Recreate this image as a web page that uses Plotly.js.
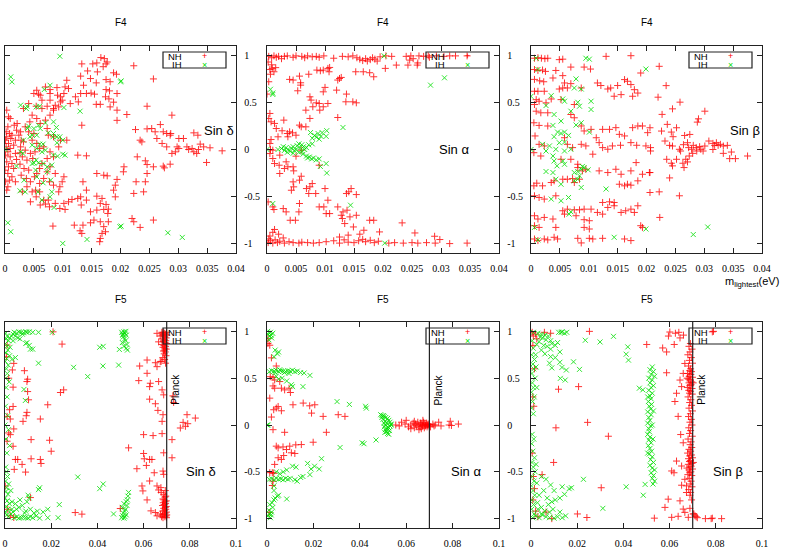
<!DOCTYPE html>
<html>
<head>
<meta charset="utf-8">
<script src="https://cdn.plot.ly/plotly-3.0.1.min.js"></script>
<style>html,body{margin:0;padding:0;background:#fff;}#chart{width:789px;height:552px;}</style>
</head>
<body>
<div id="chart"></div>
<script>
// ---------- labels / ticks ----------
const PLANCK = 0.07;
const xTickValsF4 = [0, 0.005, 0.01, 0.015, 0.02, 0.025, 0.03, 0.035, 0.04];
const xTickTextF4 = ["0", "0.005", "0.01", "0.015", "0.02", "0.025", "0.03", "0.035", "0.04"];
const xTickValsF5 = [0, 0.02, 0.04, 0.06, 0.08, 0.1];
const xTickTextF5 = ["0", "0.02", "0.04", "0.06", "0.08", "0.1"];
const yTickVals = [-1, -0.5, 0, 0.5, 1];
const yTickText = ["-1", "-0.5", "0", "0.5", "1"];
const panelTitles = ["F4", "F4", "F4", "F5", "F5", "F5"];
const panelLabels = ["Sin \u03b4", "Sin \u03b1", "Sin \u03b2", "Sin \u03b4", "Sin \u03b1", "Sin \u03b2"];
const seriesNames = ["NH", "IH"];
const xAxisTitle = "m<sub>lightest</sub>(eV)";
const planckLabel = "Planck";

// ---------- data: [m_lightest, sin] ----------
const f4_sinDelta_NH = [
[0.0166,0.977],[0.0172,0.966],[0.0159,0.92],[0.0175,0.91],[0.0177,0.93],[0.0152,0.91],[0.0133,0.91],[0.017,0.88],[0.0223,0.89],[0.0143,0.835],
[0.016,0.825],[0.0188,0.815],[0.0193,0.80],[0.0131,0.78],[0.0148,0.754],[0.0107,0.736],[0.0257,0.75],[0.0175,0.743],[0.0182,0.72],[0.0136,0.683],
[0.0158,0.708],[0.007,0.665],[0.0078,0.637],[0.009,0.658],[0.0104,0.665],[0.011,0.648],[0.0175,0.637],[0.0181,0.623],[0.0131,0.595],[0.0141,0.595],
[0.0149,0.60],[0.0155,0.588],[0.0122,0.56],[0.0096,0.56],[0.0058,0.588],[0.005,0.595],[0.0194,0.595],[0.0174,0.56],[0.018,0.538],[0.0188,0.503],
[0.0158,0.48],[0.0165,0.48],[0.0113,0.488],[0.0127,0.506],[0.0099,0.524],[0.0087,0.47],[0.0246,0.46],[0.0194,0.418],[0.0182,0.453],[0.0084,0.435],
[0.0211,0.372],[0.0194,0.31],[0.0133,0.258],
[0.0226,0.212],[0.0246,0.219],[0.0254,0.223],[0.0269,0.265],[0.026,0.188],[0.0274,0.188],[0.028,0.17],[0.0289,0.365],[0.0287,0.17],[0.0286,0.152],
[0.0301,0.117],[0.0327,0.177],[0.0334,0.152],[0.0309,0.117],[0.0234,0.099],[0.0237,0.081],[0.0263,0.117],[0.0272,0.064],[0.028,0.028],[0.0298,0.028],
[0.0301,0.011],[0.0295,-0.025],[0.0289,-0.042],[0.0315,0.028],[0.0318,0.0],[0.0324,0.011],[0.0327,-0.025],[0.0338,0.057],[0.0344,0.028],[0.0335,0.0],
[0.0332,-0.042],[0.0355,0.018],[0.0376,-0.014],[0.0349,-0.138],[0.0229,-0.078],[0.0243,-0.12],[0.0246,-0.16],[0.0257,-0.184],[0.0274,-0.177],[0.0276,-0.195],
[0.0286,-0.156],[0.0246,-0.255],[0.0243,-0.343],[0.0227,-0.343],[0.0205,-0.237],[0.0206,-0.184],[0.0194,-0.318],[0.0191,-0.379],[0.0188,-0.432],[0.0223,-0.467],
[0.024,-0.45],[0.0191,-0.503],
[0.0159,-0.255],[0.0171,-0.273],[0.0177,-0.28],[0.0135,-0.343],[0.0141,-0.432],[0.0159,-0.496],[0.0168,-0.52],[0.0141,-0.538],[0.0131,-0.503],[0.0126,-0.52],
[0.0116,-0.531],[0.011,-0.556],[0.0104,-0.637],[0.0095,-0.627],[0.0102,-0.573],[0.0087,-0.573],[0.0077,-0.609],[0.0070,-0.58],[0.0061,-0.59],[0.0165,-0.573],
[0.0175,-0.584],[0.0179,-0.634],[0.0171,-0.637],[0.0159,-0.644],[0.0148,-0.662],[0.0132,-0.59],[0.0154,-0.75],[0.0148,-0.779],[0.0135,-0.804],[0.012,-0.804],
[0.0130,-0.864],[0.0133,-0.892],[0.0165,-0.768],[0.0171,-0.82],[0.0174,-0.874],[0.0168,-0.892],[0.0165,-0.945],[0.0164,-0.98],[0.0178,-0.68],[0.0179,-0.768],
[0.0220,-0.733],[0.0223,-0.768],[0.0234,-0.828],[0.0257,-0.75],[0.0083,-0.814],[0.0075,-0.538],[0.0067,-0.538],[0.0044,-0.556],[0.0054,-0.503],[0.006,-0.45],
[0.0141,-0.067],[0.0126,-0.06],
[0.0003,0.418],[0.0006,0.347],[0.0009,0.329],[0.0005,0.241],[0.0002,0.188],[0.0008,0.17],[0.0012,0.152],[0.0003,0.135],[0.001,0.117],[0.0001,0.099],
[0.0006,0.064],[0.0015,0.046],[0.0002,0.028],[0.0009,0.011],[0.0005,-0.025],[0.0018,-0.042],[0.0001,-0.06],[0.0009,-0.078],[0.0003,-0.131],[0.0012,-0.149],
[0.002,-0.106],[0.0006,-0.184],[0.0015,-0.202],[0.0005,-0.255],[0.0012,-0.29],[0.0008,-0.326],[0.0018,-0.343],[0.0005,-0.396],[0.0003,-0.432],[0.0016,0.258],
[0.0021,0.276],[0.002,0.205],[0.0024,0.152],[0.0028,0.099],[0.0032,0.081],[0.0027,0.028],[0.0035,-0.007],[0.0026,-0.035],[0.003,-0.078],[0.0038,-0.113],
[0.0026,-0.156],[0.0033,-0.202],[0.0041,-0.219],[0.0028,-0.273],[0.0037,-0.308],[0.0044,-0.343],[0.0051,-0.29],[0.0055,-0.255],[0.006,-0.202],[0.0064,-0.149],
[0.0048,-0.096],[0.0044,-0.042],[0.0052,-0.025],[0.006,0.011],[0.0067,0.028],[0.0055,0.064],[0.0047,0.099],[0.005,0.17],[0.0041,0.188],[0.0035,0.241],
[0.0043,0.294],[0.0047,0.365],[0.0055,0.329],[0.0061,0.276],[0.007,0.312],[0.0073,0.223],[0.0078,0.365],[0.0084,0.418],[0.0064,0.435],[0.0054,0.46],
[0.0032,0.435],[0.0041,0.488],[0.0073,0.46],[0.0093,0.453],[0.0096,0.506],[0.0102,0.595],[0.0091,0.577],[0.0055,0.63],[0.0061,0.577],[0.0078,0.595],
[0.0064,0.524],[0.0078,0.524],[0.0075,0.152],[0.0084,0.135],[0.0096,0.099],[0.0107,0.099],[0.0093,0.028],[0.0078,-0.025],[0.0084,-0.078],[0.0073,-0.096],
[0.0078,-0.184],[0.0073,-0.237],[0.0087,-0.255],[0.0067,-0.308],[0.006,-0.361],[0.0077,-0.343],[0.0084,-0.379],[0.0095,-0.396],[0.0093,-0.45],[0.0102,-0.29],
[0.0099,-0.343],[0.0053,-0.432],[0.0038,-0.396],[0.003,-0.45],[0.0047,-0.45],[0.0027,0.188],[0.0018,0.099],[0.0000,-0.22],[0.0001,-0.343]
];
const f4_sinDelta_IH = [
[0.0095,0.991],[0.001,0.772],[0.0012,0.719],[0.02,0.719],[0.0201,0.729],[0.0078,0.683],[0.0068,0.637],[0.0130,0.407],[0.0027,0.471],[0.0038,0.46],
[0.0037,0.435],[0.0054,0.453],[0.006,0.46],[0.0102,0.446],[0.0041,0.248],[0.0039,0.223],[0.005,0.223],[0.0058,0.258],[0.0061,0.223],[0.007,0.283],
[0.0075,0.177],[0.0084,0.294],[0.0089,0.234],[0.0084,0.17],[0.0083,0.135],[0.009,0.135],[0.0095,0.135],[0.01,0.099],[0.009,0.071],[0.0047,0.152],
[0.0043,0.135],[0.0032,0.099],[0.0055,0.152],[0.006,0.057],[0.0066,0.057],[0.0047,0.046],[0.0055,0.011],[0.007,-0.007],[0.0064,-0.025],[0.0027,-0.025],
[0.0031,-0.042],[0.0,0.0],[0.0084,-0.06],[0.0091,-0.071],[0.01,-0.05],[0.0104,-0.06],[0.005,-0.142],[0.0058,-0.142],[0.0054,-0.113],[0.0066,-0.149],
[0.0047,-0.149],[0.002,-0.177],[0.0073,-0.184],[0.0053,-0.219],[0.0055,-0.29],[0.0033,-0.326],[0.0066,-0.354],[0.0079,-0.326],[0.0081,-0.166],[0.0073,-0.237],
[0.0026,-0.439],[0.0035,-0.45],[0.0057,-0.45],[0.0081,-0.45],[0.0064,-0.538],[0.0078,-0.503],[0.0085,-0.616],[0.0005,-0.779],[0.001,-0.874],[0.0201,-0.814],
[0.0199,-0.821],[0.0142,-0.956],[0.01,-0.998],[0.0282,-0.885],[0.0307,-0.934]
];
const f4_sinAlpha_NH = [
[0.0003,0.99],[0.0008,0.975],[0.0012,0.995],[0.0016,0.98],[0.002,0.99],[0.0025,0.965],[0.003,0.99],[0.0035,0.995],[0.0045,0.98],[0.005,0.995],
[0.006,0.99],[0.0065,0.975],[0.007,0.995],[0.0078,0.985],[0.0085,0.99],[0.009,0.98],[0.0098,0.995],[0.0115,0.97],[0.013,0.99],[0.014,0.985],
[0.0148,0.995],[0.0155,0.975],[0.016,0.96],[0.0165,0.945],[0.017,0.965],[0.0173,0.94],[0.0178,0.955],[0.0182,0.975],[0.0186,0.96],[0.019,0.94],
[0.0195,0.985],[0.0205,0.995],[0.0215,0.99],[0.024,0.99],[0.0248,0.995],[0.0252,0.965],[0.0262,0.995],[0.027,0.99],[0.0278,0.995],[0.028,0.98],
[0.0292,0.995],[0.0305,0.99],[0.0315,0.995],[0.0325,0.995],[0.0345,0.995],[0.0002,0.93],[0.0008,0.9],[0.0015,0.87],[0.0005,0.85],[0.0246,0.95],[0.026,0.92],
[0.0002,-0.99],[0.0006,-0.97],[0.001,-0.995],[0.0014,-0.96],[0.0018,-0.99],[0.0022,-0.975],[0.003,-0.995],[0.0038,-0.98],[0.0045,-0.99],[0.0055,-0.995],
[0.006,-0.985],[0.007,-0.99],[0.008,-0.995],[0.009,-0.99],[0.0102,-0.98],[0.0115,-0.97],[0.0125,-0.995],[0.0133,-0.96],[0.014,-0.985],[0.015,-0.99],
[0.0158,-0.97],[0.0165,-0.955],[0.017,-0.98],[0.0178,-0.965],[0.0185,-0.99],[0.0192,-0.975],[0.021,-0.995],[0.022,-0.99],[0.0235,-0.995],[0.025,-0.99],
[0.026,-0.995],[0.0275,-0.99],[0.029,-0.995],[0.0315,-1.0],[0.0345,-0.995],[0.0005,-0.92],[0.001,-0.88],[0.0013,-0.85],[0.002,-0.9],[0.0028,-0.94],
[0.0003,-0.95],[0.0125,-0.93],[0.014,-0.91],[0.016,-0.9],
[0.0039,0.745],[0.0045,0.738],[0.0056,0.78],[0.0058,0.709],[0.0072,0.80],[0.0086,0.844],[0.0092,0.837],[0.0097,0.844],[0.0105,0.862],[0.0108,0.872],
[0.0107,0.826],[0.0122,0.738],[0.0125,0.755],[0.0128,0.766],[0.012,0.631],[0.0137,0.589],[0.0136,0.507],[0.0148,0.507],[0.0154,0.496],[0.0153,0.826],
[0.0166,0.826],[0.0177,0.816],[0.0184,0.773],[0.0204,0.862],[0.0223,0.897],[0.0243,0.897],[0.0259,0.897],[0.0074,0.56],[0.0076,0.525],[0.0085,0.496],
[0.009,0.489],[0.0097,0.454],[0.0105,0.489],[0.0091,0.418],[0.0079,0.454],[0.0067,0.418],[0.0074,0.33],[0.0122,0.34],[0.01,0.66],[0.0097,0.613],
[0.0053,0.624],[0.0058,0.684],[0.0009,0.862],[0.0012,0.826],[0.0006,0.80],[0.0003,0.72],[0.0,0.589],[0.0005,0.383],[0.0003,0.33],[0.0007,0.294],
[0.0013,0.277],[0.0029,0.312],[0.0016,0.223],[0.0039,0.188],[0.0044,0.177],[0.005,0.152],[0.0056,0.259],[0.0059,0.241],[0.0036,0.135],[0.0019,0.135],
[0.0007,0.106],[0.0005,0.064],[0.0006,0.0],[0.001,-0.007],[0.0005,-0.043],[0.001,-0.096],[0.0013,-0.149],[0.0021,-0.167],[0.0022,-0.255],[0.003,-0.202],
[0.0036,-0.184],[0.0045,-0.184],[0.0046,-0.227],[0.0059,-0.284],[0.0056,-0.326],[0.0045,-0.344],[0.0046,-0.397],[0.0042,-0.433],[0.0068,-0.415],[0.0074,-0.397],
[0.0072,-0.468],[0.0078,-0.362],[0.0084,-0.468],[0.01,-0.415],[0.0105,-0.539],[0.009,-0.61],[0.0098,-0.61],[0.0102,-0.681],[0.0108,-0.681],[0.0122,-0.61],
[0.0131,-0.663],[0.0138,-0.645],[0.0137,-0.468],[0.0141,-0.45],[0.0145,-0.415],[0.0154,-0.479],[0.0128,-0.699],[0.013,-0.734],[0.0143,-0.716],[0.0134,-0.787],
[0.0149,-0.823],[0.0154,-0.699],[0.0177,-0.752],[0.0184,-0.752],[0.0167,-0.858],[0.0194,-0.876],[0.0233,-0.78],[0.0255,-0.887],[0.0289,-0.922],[0.0298,-0.957],
[0.0056,-0.574],[0.0055,-0.663],[0.0049,-0.752],[0.004,-0.752],[0.0033,-0.663],[0.0028,-0.628],[0.001,-0.61],[0.0012,-0.638],[0.0002,-0.557],[0.0022,-0.06],
[0.005,-0.071],[0.0035,0.17],[0.0026,0.199],[0.0067,0.241],[0.009,-0.167],[0.0033,-0.131],[0.0059,-0.007]
];
const f4_sinAlpha_IH = [
[0.0202,0.995],[0.0203,-0.995],[0.0006,0.64],[0.001,0.6],[0.001,0.585],[0.0282,0.684],[0.0306,0.762],[0.0131,0.234],[0.001,-0.574],[0.0144,-0.592],
[0.0,0.0],[0.0019,0.0],[0.0025,0.01],[0.003,-0.01],[0.0033,0.02],[0.0036,0.0],[0.004,-0.02],[0.0042,0.015],[0.0045,0.03],[0.0047,-0.01],
[0.005,0.0],[0.0052,0.04],[0.0055,-0.03],[0.0057,0.02],[0.006,0.05],[0.0062,-0.05],[0.0065,0.0],[0.0068,-0.07],[0.007,-0.09],[0.0073,-0.08],
[0.0077,-0.1],[0.008,-0.09],[0.0085,-0.11],[0.009,-0.1],[0.0078,0.12],[0.0082,0.15],[0.0085,0.13],[0.0088,0.17],[0.009,0.11],[0.0093,0.14],
[0.0095,0.18],[0.0075,0.18],[0.0102,0.14],[0.0103,0.2],[0.0092,-0.18],[0.0102,-0.15],[0.0103,-0.25],[0.0072,0.05],[0.0078,0.06],[0.0045,-0.04],
[0.0055,0.06],[0.006,-0.02],[0.0035,-0.03],[0.0028,0.03],[0.0068,0.02],[0.0063,0.03]
];
const f4_sinBeta_NH = [
[0.0006,0.97],[0.0012,0.975],[0.0018,0.97],[0.0024,0.965],[0.0029,0.97],[0.0049,0.955],[0.0055,0.96],[0.0006,0.85],[0.0012,0.84],[0.002,0.845],
[0.0025,0.83],[0.0043,0.84],[0.0069,0.876],[0.0092,0.876],[0.0103,0.855],[0.013,0.99],[0.0173,0.997],[0.019,0.813],[0.0006,0.745],[0.0015,0.73],
[0.0022,0.72],[0.0038,0.76],[0.0055,0.785],[0.0058,0.707],[0.0069,0.7],[0.0006,0.619],[0.0012,0.619],[0.0023,0.619],[0.0049,0.643],[0.0055,0.654],
[0.0063,0.654],[0.0087,0.654],[0.0115,0.707],[0.0121,0.68],[0.0133,0.643],[0.0138,0.654],[0.015,0.68],[0.0162,0.743],[0.0167,0.725],[0.0173,0.69],
[0.0179,0.636],[0.0185,0.6],[0.0176,0.566],[0.0156,0.583],[0.0144,0.566],[0.0009,0.53],[0.0014,0.513],[0.0026,0.496],[0.0006,0.478],[0.0035,0.537],
[0.0052,0.53],[0.0075,0.478],[0.0009,0.407],[0.0017,0.39],[0.0029,0.39],[0.0005,0.284],[0.0014,0.256],[0.0029,0.25],[0.0069,0.372],[0.0075,0.337],
[0.0087,0.25],[0.0092,0.197],[0.0104,0.214],[0.0113,0.125],[0.0124,0.214],[0.0136,0.214],[0.0147,0.232],[0.0153,0.161],[0.0162,0.144],[0.0176,0.232],
[0.0185,0.25],[0.0193,0.25],[0.0202,0.179],[0.0007,0.144],[0.0014,0.055],[0.0023,0.038],[0.0058,0.125],[0.0063,0.055],[0.0072,0.02],[0.0087,0.055],
[0.0095,0.038],[0.0107,-0.05],[0.0118,0.073],[0.0124,0.02],[0.0133,0.003],[0.0141,0.038],[0.0155,0.045],[0.0173,0.073],[0.0183,0.045],[0.0199,0.038],
[0.0182,-0.139],[0.0005,-0.034],[0.0017,-0.069],[0.0052,-0.104],[0.0069,-0.104],[0.0081,-0.157],[0.0081,-0.192],[0.0089,-0.227],[0.0095,-0.21],[0.0118,-0.227],
[0.0133,-0.245],[0.0147,-0.21],[0.0156,-0.263],[0.0173,-0.227],[0.0193,-0.263],[0.0205,-0.245],[0.0005,-0.386],[0.001,-0.358],[0.002,-0.386],[0.0035,-0.351],
[0.004,-0.333],[0.0055,-0.316],[0.0063,-0.316],[0.0072,-0.309],[0.0075,-0.351],[0.0084,-0.316],[0.0124,-0.563],[0.0136,-0.556],[0.0144,-0.563],[0.0153,-0.369],
[0.0162,-0.386],[0.0167,-0.369],[0.0173,-0.379],[0.0185,-0.333],[0.0006,-0.492],[0.0014,-0.51],[0.0023,-0.527],[0.0043,-0.492],[0.0055,-0.651],[0.0063,-0.634],
[0.0075,-0.641],[0.0084,-0.641],[0.0092,-0.634],[0.0104,-0.634],[0.0115,-0.669],[0.0124,-0.687],[0.0133,-0.616],[0.0144,-0.598],[0.0156,-0.669],[0.0164,-0.651],
[0.0173,-0.634],[0.0185,-0.598],[0.0179,-0.669],[0.0006,-0.704],[0.0012,-0.739],[0.0023,-0.722],[0.0038,-0.739],[0.0058,-0.687],[0.0078,-0.704],[0.0092,-0.746],
[0.0101,-0.757],[0.0006,-0.81],[0.0014,-0.828],[0.0043,-0.828],[0.0092,-0.828],[0.0101,-0.845],[0.019,-0.81],[0.0193,-0.828],[0.0006,-0.951],[0.0012,-0.968],
[0.0023,-0.951],[0.0029,-0.961],[0.004,-0.933],[0.0046,-0.951],[0.0081,-0.944],[0.0087,-0.993],[0.0101,-0.944],[0.0107,-0.951],[0.0124,-0.944],[0.0162,-0.951],
[0.0173,-0.968],
[0.0222,0.884],[0.0234,0.679],[0.0220,0.556],[0.0245,0.432],[0.0258,0.503],[0.0227,0.373],[0.0301,0.407],[0.0290,0.326],[0.0288,0.291],[0.0236,0.267],
[0.0252,0.231],[0.0206,0.231],[0.0226,0.196],[0.0243,0.185],[0.0246,0.136],[0.0266,0.149],[0.0275,0.16],[0.0232,0.09],[0.0240,0.044],[0.0245,0.037],
[0.0207,0.02],[0.0207,-0.016],[0.0257,0.002],[0.0259,-0.016],[0.0264,0.051],[0.0271,0.072],[0.0273,0.02],[0.0278,0.002],[0.0281,0.044],[0.0286,0.02],
[0.0287,-0.016],[0.0292,0.03],[0.0294,0.002],[0.0298,-0.016],[0.0301,0.037],[0.0280,-0.041],[0.0274,-0.069],[0.0268,-0.104],[0.0263,-0.146],[0.0265,-0.192],
[0.0271,-0.132],[0.0252,-0.104],[0.0235,-0.104],[0.0243,-0.146],[0.0245,-0.174],[0.0308,0.09],[0.0315,0.065],[0.0321,0.072],[0.0324,0.044],[0.0328,0.055],
[0.0315,0.0],[0.0318,0.044],[0.0333,0.037],[0.034,0.044],[0.0333,-0.041],[0.0347,-0.027],[0.0344,-0.097],[0.0354,-0.097],[0.0375,-0.069],[0.0206,-0.245],
[0.024,-0.302],[0.0222,-0.45],[0.0257,-0.492],[0.0206,-0.457],[0.0223,-0.722]
];
const f4_sinBeta_IH = [
[0.0009,0.97],[0.0012,0.85],[0.0095,0.97],[0.0101,0.96],[0.0078,0.75],[0.0075,0.654],[0.0087,0.643],[0.0035,0.572],[0.0055,0.537],[0.0058,0.513],
[0.0081,0.502],[0.0084,0.46],[0.0104,0.513],[0.0104,0.425],[0.0026,0.467],[0.004,0.372],[0.0069,0.407],[0.0052,0.302],[0.0038,0.256],[0.0087,0.284],
[0.0078,0.26],[0.0101,0.185],[0.0046,0.185],[0.0052,0.171],[0.0058,0.185],[0.0065,0.15],[0.004,0.136],[0.0049,0.072],[0.0058,0.079],[0.002,0.055],
[0.0032,0.038],[0.0026,-0.016],[0.0043,0.002],[0.0058,-0.016],[0.0069,0.002],[0.0038,-0.069],[0.004,-0.122],[0.0055,-0.122],[0.0058,-0.157],[0.0045,-0.174],
[0.0026,-0.234],[0.0038,-0.245],[0.0075,-0.245],[0.0081,-0.234],[0.0087,-0.21],[0.0089,-0.18],[0.0092,-0.192],[0.0099,-0.216],[0.0084,-0.28],[0.0081,-0.316],
[0.0075,-0.333],[0.0043,-0.316],[0.0087,-0.404],[0.0052,-0.369],[0.013,-0.42],[0.0052,-0.545],[0.0065,-0.51],[0.0035,-0.527],[0.0066,-0.687],[0.0069,-0.662],
[0.0006,-0.828],[0.0012,-0.961],[0.0144,-0.933],[0.0199,0.855],[0.0199,-0.845],[0.0,0.565],[0.0,0.0],[0.0281,-0.904],[0.0306,-0.824]
];
const f5_sinDelta_NH = [
[0.0685,0.99],[0.069,0.98],[0.0695,0.97],[0.068,0.96],[0.0688,0.95],[0.0692,0.94],[0.0698,0.93],[0.0682,0.92],[0.069,0.91],[0.0696,0.9],
[0.0686,0.89],[0.0693,0.88],[0.0699,0.87],[0.068,0.86],[0.0688,0.85],[0.0695,0.84],[0.0684,0.83],[0.0692,0.82],[0.0698,0.81],[0.069,0.8],
[0.0686,0.79],[0.0694,0.78],[0.0689,0.76],[0.0697,0.74],[0.0683,0.72],[0.0691,0.7],[0.0676,0.68],[0.0695,0.66],[0.0685,0.97],[0.0679,0.99],
[0.0699,0.99],[0.0672,0.95],[0.0700,0.96],
[0.0684,-0.99],[0.0692,-0.98],[0.0697,-0.97],[0.0681,-0.96],[0.0689,-0.95],[0.0694,-0.94],[0.0699,-0.93],[0.0683,-0.92],[0.0691,-0.91],[0.0696,-0.9],
[0.0687,-0.89],[0.0694,-0.88],[0.0698,-0.87],[0.0682,-0.86],[0.0689,-0.85],[0.0695,-0.84],[0.0685,-0.83],[0.0693,-0.82],[0.0698,-0.81],[0.0688,-0.8],
[0.0684,-0.79],[0.0692,-0.77],[0.0696,-0.76],[0.0687,-0.74],[0.0676,-0.72],[0.0694,-0.7],[0.0699,-0.99],[0.0678,-0.98],[0.0673,-0.95],[0.07,-0.96],
[0.0615,0.694],[0.0651,0.665],[0.0672,0.676],[0.0658,0.623],[0.0583,0.63],[0.0615,0.552],[0.0629,0.446],[0.0626,0.41],[0.0579,0.474],[0.0665,0.464],
[0.068,0.375],[0.0687,0.322],[0.0651,0.227],[0.0626,0.276],[0.0662,0.156],[0.0684,0.11],[0.06,-0.103],[0.0641,-0.113],[0.068,-0.092],[0.06,-0.304],
[0.0603,-0.361],[0.0626,-0.368],[0.0636,-0.368],[0.0612,-0.432],[0.0571,-0.467],[0.0646,-0.51],[0.0626,-0.598],[0.0593,-0.651],[0.0597,-0.704],[0.0658,-0.651],
[0.0665,-0.694],[0.0675,-0.669],[0.0615,-0.8],[0.0632,-0.917],[0.0658,-0.97],[0.0651,-0.935],[0.0687,-0.297],[0.0684,-0.492],[0.0687,-0.527],[0.068,0.039],
[0.0723,-0.156],[0.0723,-0.35],[0.073,0.241],[0.0727,0.311],[0.0759,-0.032],[0.0781,-0.014],[0.0788,0.11],[0.0791,0.014],[0.0824,0.074],[0.0771,0.028],
[0.0665,0.888],[0.0687,0.9],[0.0658,0.979],
[0.0247,0.864],[0.0254,0.375],[0.024,0.347],[0.0208,0.995],[0.0185,0.216],[0.0153,0.064],[0.0095,0.464],[0.0098,0.489],[0.0084,0.58],[0.0098,0.357],
[0.0102,0.269],[0.0095,0.135],[0.0092,0.099],[0.0078,0.039],[0.0113,-0.156],[0.0193,-0.163],[0.02,-0.28],[0.0153,-0.368],[0.0156,-0.411],[0.0113,-0.361],
[0.0074,-0.421],[0.0055,-0.368],[0.0089,-0.503],[0.011,-0.775],[0.0304,-0.935],[0.0333,-0.952],[0.0535,-0.244],[0.0499,-0.892],[0.004,-0.474],[0.0035,-0.227],
[0.0023,-0.103],[0.0038,-0.042],[0.0035,0.198],[0.0023,0.064],[0.0035,0.404],[0.0032,0.588],[0.0038,0.658],[0.0009,0.092],[0.0016,-0.085],[0.0009,-0.173],
[0.0012,-0.9],[0.0023,-0.97],[0.0038,-0.988],[0.0001,-0.651],[0.0006,0.729],[0.0009,0.853],[0.0045,-0.368],[0.002,0.163],[0.0016,0.5]
];
const f5_sinDelta_IH = [
[0.0003,0.98],[0.001,0.95],[0.0005,0.92],[0.0015,0.9],[0.0002,0.87],[0.0008,0.84],[0.0012,0.8],[0.0004,0.77],[0.002,0.74],[0.0007,0.71],
[0.0001,0.68],[0.0014,0.64],[0.0006,0.6],[0.001,0.55],[0.0003,0.5],[0.0018,0.46],[0.0005,0.4],[0.0009,0.3],[0.0002,0.2],[0.0012,0.1],
[0.0,0.0],[0.0015,-0.05],[0.0004,-0.15],[0.002,-0.22],[0.0008,-0.3],[0.0003,-0.45],[0.0006,-0.5],[0.0011,-0.55],[0.0002,-0.6],[0.0016,-0.63],
[0.0007,-0.67],[0.0004,-0.71],[0.0013,-0.74],[0.0001,-0.78],[0.0009,-0.81],[0.0019,-0.84],[0.0005,-0.87],[0.0012,-0.9],[0.0003,-0.93],[0.0008,-0.96],
[0.0015,-0.98],[0.0025,-0.95],[0.0028,0.95],[0.0022,0.83],[0.003,0.7],[0.0025,-0.7],[0.003,-0.82],
[0.004,0.99],[0.005,0.98],[0.006,0.995],[0.007,0.99],[0.008,0.985],[0.009,0.995],[0.0095,0.99],[0.0105,0.995],[0.012,0.99],[0.0145,0.99],
[0.0205,0.99],[0.0035,0.97],[0.0045,0.95],[0.0055,0.93],[0.0075,0.97],[0.009,0.87],[0.0095,0.88],[0.0105,0.85],[0.011,0.81],[0.012,0.81],
[0.0045,0.72],[0.0145,0.66],[0.0082,0.38],[0.0035,0.9],[0.002,0.93],[0.0065,0.92],
[0.004,-0.99],[0.005,-0.98],[0.006,-0.995],[0.007,-0.99],[0.008,-0.985],[0.009,-0.99],[0.01,-0.995],[0.011,-0.98],[0.012,-0.99],[0.0135,-0.97],
[0.015,-0.995],[0.0185,-0.99],[0.023,-0.99],[0.0035,-0.93],[0.005,-0.9],[0.006,-0.88],[0.0075,-0.86],[0.009,-0.92],[0.011,-0.9],[0.0125,-0.94],
[0.014,-0.92],[0.0185,-0.9],[0.0235,-0.85],[0.0105,-0.78],[0.0095,-0.82],[0.0065,-0.8],[0.0045,-0.84],[0.015,-0.67],[0.0145,-0.69],[0.01,-0.75],
[0.003,-0.9],[0.0085,-0.94],
[0.0297,0.616],[0.0358,0.517],[0.0424,0.63],[0.041,0.83],[0.0425,0.84],[0.0492,0.64],[0.0495,0.807],[0.0315,-0.556],[0.041,-0.68],[0.0425,-0.63],
[0.047,-0.95],[0.0165,-0.93],[0.0088,0.262],
[0.0505,0.99],[0.051,0.97],[0.0515,0.995],[0.052,0.98],[0.0525,0.96],[0.0512,0.94],[0.0518,0.92],[0.0522,0.9],[0.0508,0.88],[0.0528,0.86],
[0.0515,0.84],[0.0525,0.82],[0.053,0.8],[0.051,0.96],[0.0523,1.0],
[0.0505,-0.99],[0.051,-0.97],[0.0515,-0.995],[0.052,-0.98],[0.0525,-0.96],[0.0512,-0.94],[0.0518,-0.92],[0.0522,-0.9],[0.0508,-0.88],[0.0528,-0.86],
[0.0515,-0.84],[0.0525,-0.82],[0.053,-0.8],[0.0532,-0.76],[0.0535,-0.72]
];
const f5_sinAlpha_NH = [
[0.058,0.03],[0.0595,0.01],[0.061,-0.02],[0.062,0.0],[0.063,0.02],[0.0635,-0.03],[0.064,0.01],[0.0645,-0.01],[0.065,0.03],[0.0655,0.0],
[0.066,-0.02],[0.0662,0.02],[0.0665,0.01],[0.067,-0.01],[0.0672,0.0],[0.0675,0.03],[0.0678,-0.03],[0.068,0.01],[0.0683,-0.01],[0.0685,0.0],
[0.0688,0.02],[0.069,-0.02],[0.0692,0.0],[0.0695,0.01],[0.0698,-0.01],[0.07,0.005],[0.0705,-0.02],[0.0715,0.01],[0.072,-0.01],[0.0725,0.0],
[0.074,0.03],[0.075,-0.01],[0.0785,0.0],[0.079,0.04],[0.0795,-0.005],[0.0825,0.01],[0.0555,0.0],[0.057,-0.01],[0.06,0.05],[0.0635,0.04],
[0.0665,-0.04],[0.0672,0.05],[0.0655,-0.05],[0.062,-0.04],
[0.0012,0.852],[0.0004,0.922],[0.0019,0.717],[0.0014,0.516],[0.0026,0.509],[0.0033,0.481],[0.004,0.63],[0.0026,0.417],[0.0033,0.393],[0.0062,0.393],
[0.0076,0.375],[0.0095,0.393],[0.0101,0.347],[0.0055,0.464],[0.0012,0.287],[0.004,0.181],[0.0048,0.198],[0.0029,0.163],[0.0062,0.152],[0.0112,0.216],
[0.0156,0.234],[0.0184,0.205],[0.0206,0.216],[0.0192,0.127],[0.0242,0.092],[0.0307,0.11],[0.0336,0.092],[0.0256,-0.078],[0.0019,0.085],[0.0026,-0.05],
[0.0076,-0.078],[0.0199,-0.184],[0.0148,-0.209],[0.0124,-0.212],[0.0098,-0.226],[0.0069,-0.234],[0.0084,-0.262],[0.0105,-0.297],[0.012,-0.304],[0.0072,-0.326],
[0.0048,-0.35],[0.0062,-0.368],[0.0033,-0.421],[0.0023,-0.509],[0.0029,-0.516],[0.0026,-0.6],[0.0023,-0.646],[0.0012,-0.509],[0.004,-0.226],[0.0048,-0.244],
[0.0009,-0.934],[0.0004,0.87]
];
const f5_sinAlpha_IH = [
[0.0005,0.97],[0.001,0.95],[0.0015,0.99],[0.002,0.93],[0.0008,0.91],[0.0018,0.96],[0.0025,0.98],[0.0003,1.0],
[0.0005,-0.97],[0.001,-0.95],[0.0015,-0.99],[0.002,-0.93],[0.0008,-0.91],[0.0018,-0.96],[0.0025,-0.88],[0.0012,-0.85],[0.0022,-0.83],[0.003,-0.8],[0.0035,-0.78],
[0.0,0.0],[0.0005,0.0],
[0.001,0.57],[0.002,0.58],[0.003,0.575],[0.004,0.585],[0.005,0.57],[0.006,0.58],[0.007,0.575],[0.008,0.57],[0.009,0.58],[0.01,0.575],
[0.011,0.585],[0.012,0.57],[0.013,0.575],[0.0145,0.56],[0.016,0.555],[0.0185,0.53],[0.0035,0.56],[0.0055,0.59],[0.0075,0.56],[0.0095,0.55],
[0.004,0.52],[0.005,0.49],[0.0065,0.5],[0.0085,0.47],[0.0105,0.43],[0.011,0.41],[0.0155,0.41],[0.003,0.73],[0.0045,0.76],[0.005,0.78],[0.0035,0.8],
[0.001,-0.58],[0.002,-0.575],[0.003,-0.585],[0.004,-0.57],[0.005,-0.58],[0.006,-0.575],[0.007,-0.585],[0.008,-0.57],[0.009,-0.58],[0.01,-0.57],
[0.012,-0.585],[0.013,-0.6],[0.0145,-0.56],[0.0155,-0.55],[0.0185,-0.53],[0.0175,-0.41],[0.0205,-0.44],[0.0225,-0.47],[0.0235,-0.36],[0.019,-0.47],
[0.004,-0.5],[0.0055,-0.52],[0.007,-0.5],[0.0085,-0.48],[0.011,-0.44],[0.0125,-0.45],[0.003,-0.7],[0.0045,-0.76],[0.005,-0.75],[0.0085,-0.79],[0.003,-0.65],
[0.0302,0.25],[0.0355,0.22],[0.0425,0.2],[0.0428,0.18],[0.0315,-0.24],[0.041,-0.19],[0.0418,-0.2],[0.047,-0.16],[0.049,0.11],[0.0495,0.1],
[0.0495,0.08],[0.05,0.06],[0.0505,0.09],[0.051,0.04],[0.0505,0.02],[0.051,0.0],[0.0505,-0.02],[0.051,-0.05],[0.0515,-0.07],[0.052,-0.09],
[0.0525,-0.1],[0.052,0.07],[0.0525,0.05],[0.053,0.03],[0.0535,0.01],[0.053,-0.01],[0.0525,-0.03],[0.0518,-0.04],[0.0512,0.08],[0.0502,0.1],
[0.0515,0.02],[0.052,-0.02],[0.0508,-0.08],[0.0528,-0.06],[0.0535,0.0]
];
const f5_sinBeta_NH = [
[0.072,-0.99],[0.0755,-1.0],[0.078,-1.0],[0.0785,-0.995],[0.0825,-1.0],[0.0705,-0.95],[0.071,-0.97],[0.0715,-0.98],[0.0785,0.995],[0.079,1.0],
[0.0253,1.0],[0.0206,0.41],[0.0245,0.028],[0.0108,-0.03],[0.0335,-0.12],[0.0304,-0.67],[0.0119,0.382],[0.0098,-0.4],[0.0534,-0.995],[0.0242,-0.988],
[0.0201,-0.95],[0.009,-1.0],[0.0005,0.99],[0.001,0.95],[0.002,0.97],[0.0008,0.85],[0.0015,0.6],[0.0008,0.3],[0.0012,0.2],[0.0005,-0.3],
[0.001,-0.55],[0.0015,-0.68],[0.0008,-0.8],[0.002,-0.92],[0.003,-0.98],[0.0065,-0.93],[0.0048,-0.53],[0.0058,0.99],[0.0085,0.98],[0.0025,0.92],
[0.057,0.823],[0.062,0.86],[0.0601,0.993],[0.064,0.99],[0.066,0.96],[0.0645,0.93],[0.0595,0.95],[0.0625,0.98],[0.0501,0.86],[0.0587,0.78],
[0.0587,0.558],[0.063,0.339],[0.0623,0.251],[0.0645,0.48],[0.0652,0.41],[0.0666,0.657],[0.0659,0.551],[0.0637,0.092],[0.0648,-0.102],[0.0659,-0.19],
[0.063,-0.385],[0.0609,-0.491],[0.0619,-0.51],[0.0652,-0.438],[0.0666,-0.58],[0.0673,-0.721],[0.058,-0.88],[0.0594,-0.792],[0.0645,-0.81],[0.0609,-0.986],
[0.0637,-0.975],[0.0666,-0.933],[0.0659,-0.898],[0.0688,-0.89],[0.0702,-0.95],[0.0681,-0.986],[0.0673,-0.65],[0.0652,-0.643],
[0.069,0.87],[0.0684,0.84],[0.0697,0.81],[0.0688,0.78],[0.0679,0.75],[0.0694,0.72],[0.0686,0.69],[0.0699,0.66],[0.0682,0.63],[0.0691,0.6],
[0.0687,0.58],[0.0695,0.57],[0.0678,0.55],[0.0692,0.54],[0.0685,0.52],[0.0699,0.51],[0.0681,0.49],[0.069,0.48],[0.0696,0.46],[0.0684,0.45],
[0.0693,0.43],[0.0688,0.42],[0.0677,0.4],[0.0697,0.39],[0.0683,0.37],[0.0691,0.36],[0.0686,0.34],[0.0698,0.33],[0.068,0.3],[0.0692,0.27],
[0.0687,0.24],[0.0695,0.21],[0.0684,0.18],[0.0699,0.15],[0.069,0.12],[0.0682,0.09],[0.0694,0.06],[0.0688,0.03],[0.0697,0.0],[0.0683,-0.03],
[0.0691,-0.06],[0.0686,-0.09],[0.0698,-0.12],[0.068,-0.15],[0.0693,-0.18],[0.0689,-0.21],[0.0696,-0.24],[0.0684,-0.26],[0.0691,-0.28],[0.0678,-0.3],
[0.0695,-0.32],[0.0687,-0.33],[0.0699,-0.35],[0.0682,-0.36],[0.069,-0.38],[0.0686,-0.39],[0.0697,-0.41],[0.0681,-0.42],[0.0693,-0.44],[0.0688,-0.45],
[0.0699,-0.47],[0.0684,-0.48],[0.0692,-0.5],[0.0687,-0.51],[0.0679,-0.53],[0.0696,-0.54],[0.0685,-0.57],[0.0693,-0.6],[0.0689,-0.63],[0.0697,-0.66],
[0.0683,-0.69],[0.0691,-0.72],[0.0688,-0.75],[0.0695,-0.8],[0.0702,0.45],[0.0703,-0.4],[0.0676,0.5],[0.0675,-0.46]
];
const f5_sinBeta_IH = [
[0.0227,-0.58],[0.0311,-0.89],[0.0299,0.887],[0.0235,0.905],[0.0412,0.756],[0.0422,0.693],[0.0419,0.834],[0.0357,0.947],[0.0469,0.393],[0.0484,0.375],
[0.0486,-0.75],[0.0494,-0.634],[0.0412,-0.66],[0.0184,0.675],[0.021,0.594],[0.0148,0.48],[0.0127,0.498],[0.0134,0.615],[0.0153,0.587],
[0.001,0.99],[0.003,0.98],[0.0045,0.97],[0.006,0.96],[0.0075,0.95],[0.005,0.93],[0.0065,0.91],[0.0085,0.9],[0.009,0.87],[0.0105,0.85],
[0.0115,0.88],[0.012,0.99],[0.0135,0.995],[0.0145,0.98],[0.013,0.99],[0.0155,0.99],[0.0125,0.78],[0.0105,0.72],[0.0085,0.73],[0.008,0.66],
[0.009,0.61],[0.0125,0.67],[0.0085,0.81],[0.006,0.76],[0.004,0.94],[0.0035,0.89],[0.0025,0.86],[0.0045,0.8],[0.002,0.75],[0.0055,0.85],[0.007,0.84],
[0.0005,0.9],[0.001,0.82],[0.0003,0.75],[0.0015,0.7],[0.0008,0.65],[0.0012,0.6],[0.0004,0.55],[0.0018,0.5],[0.0006,0.45],[0.001,0.4],
[0.0002,0.35],[0.0014,0.3],[0.0007,0.25],[0.0003,0.18],[0.001,0.12],[0.0005,-0.1],[0.0012,-0.15],[0.0003,-0.2],[0.0008,-0.28],[0.0015,-0.35],
[0.0004,-0.4],[0.001,-0.45],[0.0018,-0.5],[0.0006,-0.55],[0.0013,-0.6],[0.0002,-0.65],[0.0009,-0.7],[0.0016,-0.75],[0.0005,-0.8],[0.0011,-0.85],
[0.0003,-0.9],[0.0014,-0.95],[0.0007,-0.99],[0.0022,0.62],[0.0025,0.4],[0.0022,-0.42],[0.0025,-0.62],
[0.002,-0.97],[0.0035,-0.99],[0.005,-0.96],[0.0065,-0.98],[0.008,-0.99],[0.01,-0.995],[0.0115,-0.98],[0.0135,-0.99],[0.015,-0.97],[0.003,-0.9],
[0.0045,-0.88],[0.006,-0.92],[0.0075,-0.85],[0.009,-0.82],[0.0105,-0.8],[0.0125,-0.78],[0.0145,-0.74],[0.0165,-0.68],[0.0175,-0.67],[0.0135,-0.66],
[0.01,-0.7],[0.0085,-0.64],[0.0065,-0.58],[0.0045,-0.55],[0.0035,-0.75],[0.0055,-0.7],[0.007,-0.78],[0.0028,-0.83],[0.0095,-0.9],[0.0125,-0.93],
[0.0045,-0.95],[0.008,-0.93],
[0.0525,0.62],[0.0515,0.59],[0.053,0.57],[0.052,0.54],[0.0535,0.52],[0.051,0.5],[0.0525,0.48],[0.0515,0.45],[0.053,0.42],[0.052,0.4],
[0.051,0.37],[0.0525,0.34],[0.0515,0.31],[0.052,0.28],[0.0508,0.25],[0.0522,0.22],[0.0512,0.2],[0.0518,0.17],[0.0505,0.14],[0.052,0.11],
[0.051,0.08],[0.0515,0.05],[0.0505,0.02],[0.0518,-0.01],[0.051,-0.04],[0.0512,-0.07],[0.0505,-0.1],[0.0515,-0.13],[0.051,-0.16],[0.052,-0.19],
[0.0508,-0.22],[0.0515,-0.25],[0.0522,-0.28],[0.0512,-0.31],[0.0525,-0.34],[0.0518,-0.37],[0.053,-0.4],[0.0515,-0.43],[0.0525,-0.46],[0.0535,-0.48],
[0.052,-0.51],[0.053,-0.54],[0.0525,-0.57],[0.0535,-0.6],[0.0528,-0.63],[0.0505,0.3],[0.053,0.15],[0.0525,0.0],[0.0528,-0.15],[0.0505,-0.3]
];

// ---------- layout geometry (pixels) ----------
const W = 789, H = 552;
const colPx = [[5, 236], [267, 499], [531, 762]];
const rowPx = [[46, 253], [322, 528]];
const titleYPx = [23, 299];

const panels = [
  {nh: f4_sinDelta_NH, ih: f4_sinDelta_IH, xmax: 0.04, tv: xTickValsF4, tt: xTickTextF4, planck: false, lab: [0.037, 0.2]},
  {nh: f4_sinAlpha_NH, ih: f4_sinAlpha_IH, xmax: 0.04, tv: xTickValsF4, tt: xTickTextF4, planck: false, lab: [0.0322, 0.0]},
  {nh: f4_sinBeta_NH,  ih: f4_sinBeta_IH,  xmax: 0.04, tv: xTickValsF4, tt: xTickTextF4, planck: false, lab: [0.037, 0.2]},
  {nh: f5_sinDelta_NH, ih: f5_sinDelta_IH, xmax: 0.1, tv: xTickValsF5, tt: xTickTextF5, planck: true, lab: [0.0848, -0.5]},
  {nh: f5_sinAlpha_NH, ih: f5_sinAlpha_IH, xmax: 0.1, tv: xTickValsF5, tt: xTickTextF5, planck: true, lab: [0.0858, -0.5]},
  {nh: f5_sinBeta_NH,  ih: f5_sinBeta_IH,  xmax: 0.1, tv: xTickValsF5, tt: xTickTextF5, planck: true, lab: [0.0853, -0.5]}
];

const RED = "#ff0000", GREEN = "#00e000";
const SERIF = "Liberation Serif, Times New Roman, serif";
const SANS = "Liberation Sans, Arial, sans-serif";

const traces = [];
const layout = {
  width: W, height: H,
  margin: {l: 0, r: 0, t: 0, b: 0},
  paper_bgcolor: "#fff", plot_bgcolor: "#fff",
  showlegend: false,
  shapes: [], annotations: []
};

panels.forEach((p, i) => {
  const col = i % 3, row = Math.floor(i / 3);
  const sfx = i === 0 ? "" : String(i + 1);
  const xa = "x" + sfx, ya = "y" + sfx;
  const [x0, x1] = colPx[col], [y0, y1] = rowPx[row];

  [[p.nh, RED, "cross-thin", seriesNames[0]], [p.ih, GREEN, "x-thin", seriesNames[1]]].forEach(([d, c, sym, nm]) => {
    traces.push({
      type: "scatter", mode: "markers", name: nm,
      x: d.map(v => v[0]), y: d.map(v => v[1]),
      xaxis: xa, yaxis: ya, hoverinfo: "skip",
      marker: {symbol: sym, size: 5, color: c, opacity: 0.8, line: {color: c, width: 1}}
    });
  });

  layout["xaxis" + sfx] = {
    domain: [x0 / W, x1 / W], range: [0, p.xmax], anchor: ya,
    showgrid: false, zeroline: false, showline: true, mirror: "ticks",
    linecolor: "#222", linewidth: 1.2, ticks: "inside", ticklen: 5, tickcolor: "#222",
    tickmode: "array", tickvals: p.tv, ticktext: p.tt, ticklabelstandoff: 6,
    tickfont: {family: SERIF, size: 10, color: "#000"}
  };
  layout["yaxis" + sfx] = {
    domain: [1 - y1 / H, 1 - y0 / H], range: [-1.1, 1.1], anchor: xa, side: "right",
    showgrid: false, zeroline: false, showline: true, mirror: "ticks",
    linecolor: "#222", linewidth: 1.2, ticks: "inside", ticklen: 5, tickcolor: "#222",
    tickmode: "array", tickvals: yTickVals, ticktext: yTickText, ticklabelstandoff: 5,
    showticklabels: col !== 2,
    tickfont: {family: SERIF, size: 10, color: "#000"}
  };

  // title
  layout.annotations.push({
    xref: "paper", yref: "paper", x: (x0 + x1) / 2 / W, y: 1 - titleYPx[row] / H,
    text: panelTitles[i], showarrow: false, xanchor: "center", yanchor: "middle",
    font: {family: SANS, size: 10, color: "#000"}
  });
  // panel label
  layout.annotations.push({
    xref: xa, yref: ya, x: p.lab[0], y: p.lab[1], text: panelLabels[i], showarrow: false,
    xanchor: "center", yanchor: "middle", font: {family: SANS, size: 13, color: "#000"}
  });
  // legend box
  const lx0 = x1 - 73, lx1 = x1 - 10, ly0 = y0 + 6, ly1 = y0 + 22;
  layout.shapes.push({type: "rect", xref: "paper", yref: "paper",
    x0: lx0 / W, x1: lx1 / W, y0: 1 - ly1 / H, y1: 1 - ly0 / H,
    line: {color: "#222", width: 1.2}, fillcolor: "rgba(0,0,0,0)"});
  [[seriesNames[0], "+", RED, 10], [seriesNames[1], "\u00d7", GREEN, 18.5]].forEach(([nm, sym, c, dy]) => {
    layout.annotations.push({xref: "paper", yref: "paper", x: (lx0 + 20) / W, y: 1 - (y0 + dy) / H,
      text: nm, showarrow: false, xanchor: "right", yanchor: "middle", borderpad: 0,
      font: {family: SANS, size: 9.5, color: "#000"}});
    layout.annotations.push({xref: "paper", yref: "paper", x: (lx0 + 41) / W, y: 1 - (y0 + dy) / H,
      text: sym, showarrow: false, xanchor: "center", yanchor: "middle", borderpad: 0,
      font: {family: SANS, size: 9, color: c}});
  });
  if (p.planck) {
    layout.shapes.push({type: "line", xref: xa, yref: ya + " domain", x0: PLANCK, x1: PLANCK, y0: 0, y1: 1,
      line: {color: "#222", width: 1.2}});
    layout.annotations.push({xref: xa, yref: ya, x: PLANCK + 0.0037, y: 0.38, text: planckLabel,
      textangle: -90, showarrow: false, xanchor: "center", yanchor: "middle",
      font: {family: SANS, size: 10, color: "#000"}});
  }
});

layout.annotations.push({xref: "paper", yref: "paper", x: 752 / W, y: 1 - 282 / H, text: xAxisTitle,
  showarrow: false, xanchor: "center", yanchor: "middle", font: {family: SANS, size: 11, color: "#000"}});

Plotly.newPlot("chart", traces, layout, {staticPlot: true, displayModeBar: false});
</script>
</body>
</html>
